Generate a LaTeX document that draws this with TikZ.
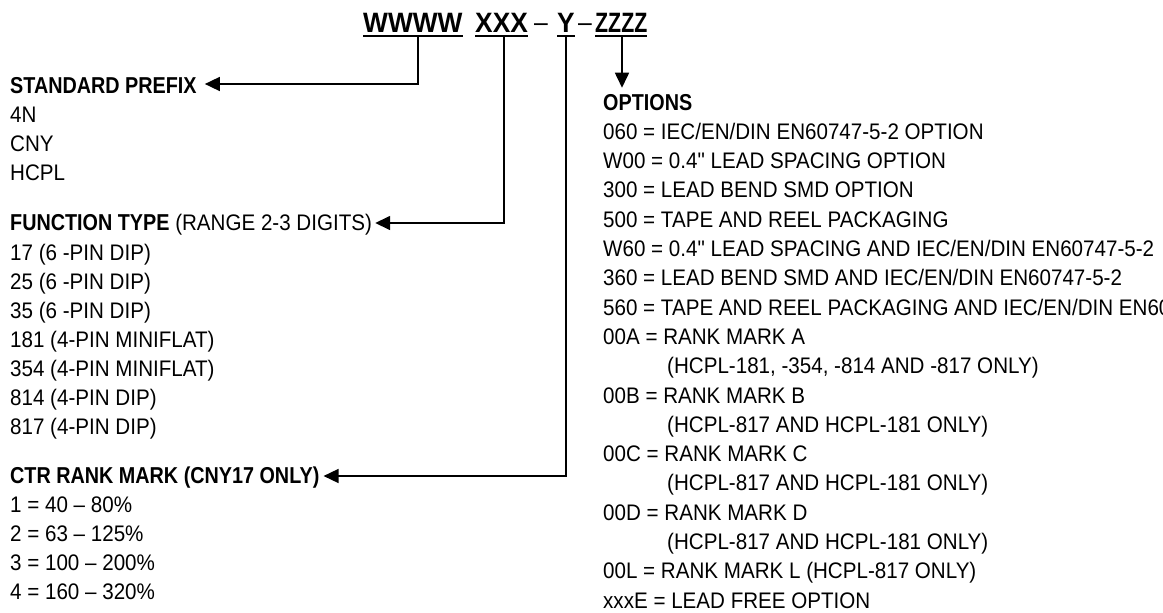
\documentclass[tikz,border=0pt]{standalone}
\usepackage{fontspec}
\usepackage{graphicx}
\setmainfont{Liberation Sans}[FakeStretch=0.915, Ligatures=TeXOff]
\newfontfamily\hdfont{Liberation Sans}[FakeStretch=0.86, Ligatures=TeXOff]
\newfontfamily\ttlfont{Liberation Sans}[FakeStretch=0.94, Ligatures=TeXOff]
\usetikzlibrary{arrows.meta}
\tikzset{
  txt/.style={anchor=base west, inner sep=0pt, font=\fontsize{22.5}{26}\selectfont},
  hd/.style={anchor=base west, inner sep=0pt, font=\hdfont\fontsize{23}{26}\selectfont\bfseries},
  ttl/.style={anchor=base west, inner sep=0pt, font=\ttlfont\fontsize{28}{32}\selectfont\bfseries},
  ttldash/.style={anchor=base, inner sep=0pt, font=\fontsize{27}{30}\selectfont},
  conn/.style={line width=1.6pt, -{Triangle[length=15pt,width=14pt]}},
  ul/.style={line width=1.8pt},
}
\begin{document}
\begin{tikzpicture}[x=1pt,y=-1pt]
\useasboundingbox (0,0) rectangle (1163,613);
% title
\node[ttl] (tW) at (363,32) {WWWW};
\node[ttl] (tX) at (475,32) {XXX};
\node[ttldash] (d1) at (541,31) {–};
\node[ttl] (tY) at (557,32) {Y};
\node[ttldash] (d2) at (585,31) {–};
\node[ttl] (tZ) at (595,32) {\scalebox{0.81}[1]{ZZZZ}};
\foreach \n in {tW,tX,tY,tZ}
  \draw[ul] ([yshift=-4pt]\n.base west) -- ([yshift=-4pt]\n.base east);
\coordinate (wW) at (418,36);
\coordinate (wX) at (504,36);
\coordinate (wY) at (566,36);
\coordinate (wZ) at (622,36);
% left column
\node[hd] (sp) at (10,93) {STANDARD PREFIX};
\node[txt] (sp1) at (10,122) {4N};
\node[txt] (sp2) at (10,151) {CNY};
\node[txt] (sp3) at (10,180) {HCPL};
\node[txt] (ft) at (10,230) {{\hdfont\fontsize{23}{26}\selectfont\bfseries FUNCTION TYPE} (RANGE 2-3 DIGITS)};
\node[txt] (ft1) at (10,260) {17 (6 -PIN DIP)};
\node[txt] (ft2) at (10,289) {25 (6 -PIN DIP)};
\node[txt] (ft3) at (10,318) {35 (6 -PIN DIP)};
\node[txt] (ft4) at (10,347) {181 (4-PIN MINIFLAT)};
\node[txt] (ft5) at (10,376) {354 (4-PIN MINIFLAT)};
\node[txt] (ft6) at (10,405) {814 (4-PIN DIP)};
\node[txt] (ft7) at (10,434) {817 (4-PIN DIP)};
\node[hd] (ctr) at (10,483) {CTR RANK MARK (CNY17 ONLY)};
\node[txt] (c1) at (10,512) {1 = 40 – 80\%};
\node[txt] (c2) at (10,541) {2 = 63 – 125\%};
\node[txt] (c3) at (10,570) {3 = 100 – 200\%};
\node[txt] (c4) at (10,599) {4 = 160 – 320\%};
% right column
\node[hd] (opt) at (603,110) {OPTIONS};
\node[txt] (o1) at (603,139.3) {060 = IEC/EN/DIN EN60747-5-2 OPTION};
\node[txt] (o2) at (603,168.6) {W00 = 0.4" LEAD SPACING OPTION};
\node[txt] (o3) at (603,197.9) {300 = LEAD BEND SMD OPTION};
\node[txt] (o4) at (603,227.2) {500 = TAPE AND REEL PACKAGING};
\node[txt] (o5) at (603,256.5) {W60 = 0.4" LEAD SPACING AND IEC/EN/DIN EN60747-5-2};
\node[txt] (o6) at (603,285.8) {360 = LEAD BEND SMD AND IEC/EN/DIN EN60747-5-2};
\node[txt] (o7) at (603,315.1) {560 = TAPE AND REEL PACKAGING AND IEC/EN/DIN EN60747-5-2};
\node[txt] (o8) at (603,344.4) {00A = RANK MARK A};
\node[txt] (o9) at (667,373.7) {(HCPL-181, -354, -814 AND -817 ONLY)};
\node[txt] (o10) at (603,403.0) {00B = RANK MARK B};
\node[txt] (o11) at (667,432.3) {(HCPL-817 AND HCPL-181 ONLY)};
\node[txt] (o12) at (603,461.6) {00C = RANK MARK C};
\node[txt] (o13) at (667,490.9) {(HCPL-817 AND HCPL-181 ONLY)};
\node[txt] (o14) at (603,520.2) {00D = RANK MARK D};
\node[txt] (o15) at (667,549.5) {(HCPL-817 AND HCPL-181 ONLY)};
\node[txt] (o16) at (603,578.8) {00L = RANK MARK L (HCPL-817 ONLY)};
\node[txt] (o17) at (603,608.1) {xxxE = LEAD FREE OPTION};
% connectors
\draw[conn] (wW) |- ([xshift=8pt,yshift=9pt]sp.base east);
\draw[conn] (wX) |- ([xshift=3pt,yshift=7pt]ft.base east);
\draw[conn] (wY) |- ([xshift=4pt,yshift=7pt]ctr.base east);
\coordinate (optTop) at ([yshift=6pt]opt.north);
\draw[conn] (wZ) -- (wZ |- optTop);
\end{tikzpicture}
\end{document}
